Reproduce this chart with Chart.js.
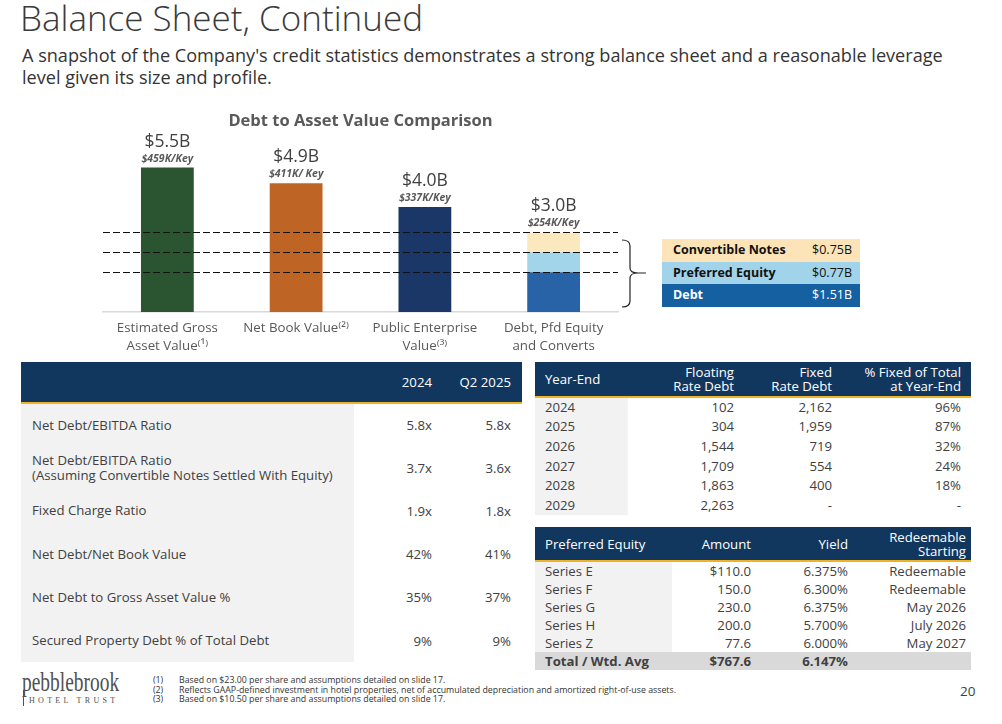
<!DOCTYPE html>
<html>
<head>
<meta charset="utf-8">
<script src="https://cdn.jsdelivr.net/npm/chart.js@4.4.1/dist/chart.umd.min.js"></script>
<style>
  body { margin: 0; width: 1002px; height: 724px; background: #fff; position: relative; overflow: hidden;
         font-family: "Open Sans", sans-serif; color: #404040; }
  .abs { position: absolute; }
  #title { left: 20px; top: -2px; font-size: 35px; line-height: 40px; font-weight: 300; color: #3a3a3a; white-space: nowrap; }
  #subtitle { left: 22px; top: 45px; font-size: 18.1px; line-height: 21.5px; color: #333; width: 958px; }
  #chartBox { left: 0; top: 100px; width: 640px; height: 260px; }
  table { border-collapse: collapse; table-layout: fixed; font-size: 13.2px; color: #404040; }
  td, th { padding: 0; white-space: nowrap; }
  th { background: #12375f; color: #fff; font-weight: 400; border-bottom: 2px solid #f0b323; }
  .g { background: #f2f2f2; }
  .r { text-align: right; }
  .l { text-align: left; }
  #legendBox { left: 662px; top: 239px; width: 198px; font-size: 12.5px; }
  #legendBox div { height: 22.7px; line-height: 22.7px; padding: 0 8px 0 11px; display: flex; justify-content: space-between; }
  #footnotes { left: 153px; top: 676px; font-size: 8.8px; line-height: 9.6px; color: #333; white-space: nowrap; }
  #footnotes span { display: inline-block; width: 26px; }
  #page { left: 960px; top: 682px; font-size: 13.5px; color: #404040; }
  #logo1 { left: 22px; top: 668px; font-family: "Liberation Serif", serif; font-size: 27px; line-height: 28px; color: #505050;
           transform: scaleX(0.72); transform-origin: left top; white-space: nowrap; }
  #logo2 { left: 29px; top: 696px; font-family: "Liberation Serif", serif; font-size: 8px; letter-spacing: 3.3px; color: #505050; white-space: nowrap; }
  #logoBar { left: 23px; top: 690px; width: 1px; height: 16px; background: #505050; }
</style>
</head>
<body>
<div id="title" class="abs">Balance Sheet, Continued</div>
<div id="subtitle" class="abs">A snapshot of the Company's credit statistics demonstrates a strong balance sheet and a reasonable leverage level given its size and profile.</div>

<div id="chartBox" class="abs"><canvas id="chart"></canvas></div>

<svg class="abs" style="left:618px;top:236px" width="36" height="76">
  <path d="M4,4 Q12,4 12,10 L12,32 Q12,37 20,37 L28,37 M20,37 Q12,37 12,42 L12,65 Q12,71 4,71" fill="none" stroke="#222" stroke-width="1.2"/>
</svg>
<div id="legendBox" class="abs"></div>

<table id="metrics" class="abs" style="left:21px;top:362px;width:501px"></table>
<table id="rates" class="abs" style="left:535px;top:362px;width:436px"></table>
<table id="prefs" class="abs" style="left:535px;top:527px;width:436px"></table>

<div id="logo1" class="abs">pebblebrook</div>
<div id="logoBar" class="abs"></div>
<div id="logo2" class="abs">HOTEL TRUST</div>
<div id="footnotes" class="abs">
  <div><span>(1)</span>Based on $23.00 per share and assumptions detailed on slide 17.</div>
  <div><span>(2)</span>Reflects GAAP-defined investment in hotel properties, net of accumulated depreciation and amortized right-of-use assets.</div>
  <div><span>(3)</span>Based on $10.50 per share and assumptions detailed on slide 17.</div>
</div>
<div id="page" class="abs">20</div>

<script>
// chart data
const categories = [['Estimated Gross', 'Asset Value\u207D\u00B9\u207E'], 'Net Book Value\u207D\u00B2\u207E',
                    ['Public Enterprise', 'Value\u207D\u00B3\u207E'], ['Debt, Pfd Equity', 'and Converts']];
const assetValues = [5.5, 4.9, 4.0, null];      // $B
const debtValues = [null, null, null, 1.51];
const preferredValues = [null, null, null, 0.77];
const convertValues = [null, null, null, 0.75];
const totalLabels = ['$5.5B', '$4.9B', '$4.0B', '$3.0B'];
const perKeyLabels = ['$459K/Key', '$411K/ Key', '$337K/Key', '$254K/Key'];

const barColors = ['#2a5530', '#be6425', '#1b3767', null];
const stackColors = { debt: '#2763a6', pref: '#a2d4ea', conv: '#fce8be' };

// legend box next to the chart
const legendRows = [['Convertible Notes', '$0.75B', '#fce4b8', '#111'],
                    ['Preferred Equity', '$0.77B', '#a1d3ea', '#111'],
                    ['Debt', '$1.51B', '#1560a0', '#fff']];

// table data
const metricCols = ['2024', 'Q2 2025'];
const metricNames = ['Net Debt/EBITDA Ratio', 'Net Debt/EBITDA Ratio<br>(Assuming Convertible Notes Settled With Equity)',
                     'Fixed Charge Ratio', 'Net Debt/Net Book Value', 'Net Debt to Gross Asset Value %',
                     'Secured Property Debt % of Total Debt'];
const metrics2024 = ['5.8x', '3.7x', '1.9x', '42%', '35%', '9%'];
const metricsQ2 = ['5.8x', '3.6x', '1.8x', '41%', '37%', '9%'];

const rateYears = ['2024', '2025', '2026', '2027', '2028', '2029'];
const floatingDebt = ['102', '304', '1,544', '1,709', '1,863', '2,263'];
const fixedDebt = ['2,162', '1,959', '719', '554', '400', '-'];
const pctFixed = ['96%', '87%', '32%', '24%', '18%', '-'];

const prefSeries = ['Series E', 'Series F', 'Series G', 'Series H', 'Series Z'];
const prefAmounts = ['$110.0', '150.0', '230.0', '200.0', '77.6'];
const prefYields = ['6.375%', '6.300%', '6.375%', '5.700%', '6.000%'];
const prefRedeem = ['Redeemable', 'Redeemable', 'May 2026', 'July 2026', 'May 2027'];
const prefTotal = ['Total / Wtd. Avg', '$767.6', '6.147%', ''];

// build legend
document.getElementById('legendBox').innerHTML = legendRows.map(r =>
  `<div style="background:${r[2]};color:${r[3]}"><b>${r[0]}</b><span>${r[1]}</span></div>`).join('');

// build tables
function colgroup(widths) {
  return '<colgroup>' + widths.map(w => `<col style="width:${w}px">`).join('') + '</colgroup>';
}
document.getElementById('metrics').innerHTML = colgroup([333, 78, 79, 11]) +
  `<tr style="height:41px"><th></th><th class="r">${metricCols[0]}</th><th class="r">${metricCols[1]}</th><th></th></tr>` +
  metricNames.map((n, i) => `<tr style="height:43.2px"><td class="g" style="padding-left:11px;line-height:15px">${n}</td>` +
    `<td class="r">${metrics2024[i]}</td><td class="r">${metricsQ2[i]}</td><td></td></tr>`).join('');

document.getElementById('rates').innerHTML = colgroup([93, 106, 98, 129, 10]) +
  `<tr style="height:35px;line-height:14px"><th class="l" style="padding-left:10px">Year-End</th><th class="r">Floating<br>Rate Debt</th>` +
  `<th class="r">Fixed<br>Rate Debt</th><th class="r">% Fixed of Total<br>at Year-End</th><th></th></tr>` +
  rateYears.map((y, i) => `<tr style="height:19.6px"><td class="g" style="padding-left:10px">${y}</td>` +
    `<td class="r">${floatingDebt[i]}</td><td class="r">${fixedDebt[i]}</td><td class="r">${pctFixed[i]}</td><td></td></tr>`).join('');

document.getElementById('prefs').innerHTML = colgroup([137, 79, 97, 118, 5]) +
  `<tr style="height:34px;line-height:14px"><th class="l" style="padding-left:10px">Preferred Equity</th><th class="r">Amount</th>` +
  `<th class="r">Yield</th><th class="r">Redeemable<br>Starting</th><th></th></tr>` +
  prefSeries.map((s, i) => `<tr style="height:17px"><td class="g" style="padding-left:10px">${s}</td>` +
    `<td class="r">${prefAmounts[i]}</td><td class="r">${prefYields[i]}</td><td class="r">${prefRedeem[i]}</td><td></td></tr>`).join('') +
  `<tr style="height:17px;background:#d9d9d9;font-weight:700"><td style="padding-left:10px">${prefTotal[0]}</td>` +
  `<td class="r">${prefTotal[1]}</td><td class="r">${prefTotal[2]}</td><td class="r">${prefTotal[3]}</td><td></td></tr>`;

// labels above the bars and dashed guides at the stack boundaries
const barAnnotations = {
  id: 'barAnnotations',
  afterDatasetsDraw(chart) {
    const { ctx, scales: { x, y }, chartArea } = chart;
    ctx.save();
    // dashed lines
    let cum = 0;
    ctx.setLineDash([7, 3]);
    ctx.strokeStyle = '#111';
    ctx.lineWidth = 1;
    [debtValues[3], preferredValues[3], convertValues[3]].forEach(v => {
      cum += v;
      const py = Math.round(y.getPixelForValue(cum)) + 0.5;
      ctx.beginPath();
      ctx.moveTo(chartArea.left, py);
      ctx.lineTo(chartArea.right, py);
      ctx.stroke();
    });
    ctx.setLineDash([]);
    // value labels
    ctx.textAlign = 'center';
    ctx.textBaseline = 'middle';
    categories.forEach((c, i) => {
      const total = [assetValues, debtValues, preferredValues, convertValues]
        .reduce((s, arr) => s + (arr[i] || 0), 0);
      const px = x.getPixelForValue(i);
      const py = y.getPixelForValue(total);
      ctx.fillStyle = '#404040';
      ctx.font = '17.5px "Open Sans"';
      ctx.fillText(totalLabels[i], px, py - 26);
      ctx.fillStyle = '#595959';
      ctx.font = 'italic bold 10.5px "Open Sans"';
      ctx.fillText(perKeyLabels[i], px, py - 9);
    });
    ctx.restore();
  }
};

new Chart(document.getElementById('chart'), {
  type: 'bar',
  data: {
    labels: categories,
    datasets: [
      { label: 'Value', data: assetValues, backgroundColor: barColors, stack: 's' },
      { label: 'Debt', data: debtValues, backgroundColor: stackColors.debt, stack: 's' },
      { label: 'Preferred Equity', data: preferredValues, backgroundColor: stackColors.pref, stack: 's' },
      { label: 'Convertible Notes', data: convertValues, backgroundColor: stackColors.conv, stack: 's' }
    ]
  },
  options: {
    responsive: true,
    maintainAspectRatio: false,
    animation: false,
    layout: { padding: { left: 103, right: 22, top: 0, bottom: 0 } },
    datasets: { bar: { barPercentage: 0.41, categoryPercentage: 1 } },
    plugins: {
      legend: { display: false },
      tooltip: { enabled: false },
      title: {
        display: true,
        text: 'Debt to Asset Value Comparison',
        color: '#595959',
        font: { family: '"Open Sans"', size: 16.5, weight: 'bold' },
        padding: { top: 11, bottom: 0 }
      }
    },
    scales: {
      x: {
        stacked: true,
        grid: { display: false, drawTicks: false },
        border: { color: '#d9d9d9', width: 1.5 },
        ticks: { color: '#595959', font: { family: '"Open Sans"', size: 13.3, lineHeight: 1.3 }, padding: 8, maxRotation: 0, autoSkip: false },
        afterFit(axis) { axis.height = 48; }
      },
      y: { stacked: true, display: false, min: 0, max: 6.9 }
    }
  },
  plugins: [barAnnotations]
});
</script>
</body>
</html>
